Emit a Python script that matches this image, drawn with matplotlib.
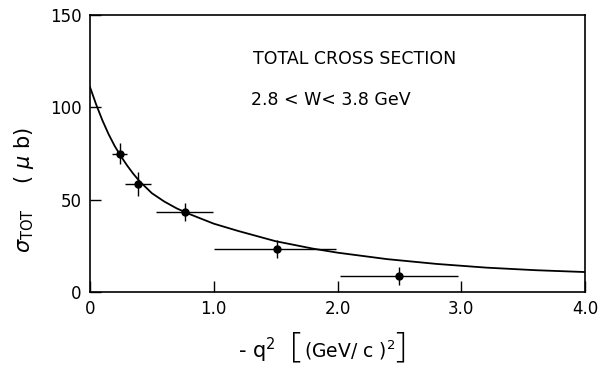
import matplotlib
matplotlib.use('Agg')
import matplotlib.pyplot as plt
import numpy as np

plt.rcParams.update({'font.family': 'DejaVu Sans', 'mathtext.fontset': 'dejavusans'})

# measured total cross section points
q2 = [0.24, 0.39, 0.77, 1.51, 2.50]
q2_lo = [0.06, 0.11, 0.24, 0.51, 0.48]
q2_hi = [0.06, 0.10, 0.22, 0.48, 0.47]
sigma = [75.0, 58.5, 43.3, 23.3, 8.7]
sigma_err = [5.5, 6.5, 5.0, 5.0, 5.0]

# fitted curve read along its length
fit_q2 = [0.0, 0.05, 0.1, 0.15, 0.2, 0.25, 0.3, 0.35, 0.4, 0.5, 0.6, 0.7, 0.8,
          1.0, 1.2, 1.5, 1.8, 2.0, 2.4, 2.8, 3.2, 3.6, 4.0]
fit_sigma = [111.0, 101.5, 93.0, 85.5, 79.0, 73.5, 68.5, 64.0, 60.0, 53.5, 49.0,
             45.3, 42.3, 37.0, 33.0, 27.5, 23.5, 21.3, 17.8, 15.2, 13.2, 11.8, 10.8]

xticks = [0, 1, 2, 3, 4]
xticklabels = ['0', '1.0', '2.0', '3.0', '4.0']
yticks = [0, 50, 100, 150]

fig = plt.figure(figsize=(6.02, 3.67), dpi=100)
ax = fig.add_axes([0.1495, 0.2044, 0.8223, 0.7546])

ax.plot(fit_q2, fit_sigma, color='black', lw=1.3)
ax.errorbar(q2, sigma, xerr=[q2_lo, q2_hi], yerr=sigma_err, fmt='o',
            color='black', ms=5, elinewidth=1.0, capsize=0)

ax.set_xlim(0, 4.0)
ax.set_ylim(0, 150)
ax.set_xticks(xticks)
ax.set_xticklabels(xticklabels)
ax.set_yticks(yticks)
ax.tick_params(direction='in', length=8, width=1.0, labelsize=12, pad=6, color='black')
for s in ax.spines.values():
    s.set_linewidth(1.2)

ax.text(1.32, 126, 'TOTAL CROSS SECTION', fontsize=12.5, va='center')
ax.text(1.30, 104, '2.8 < W< 3.8 GeV', fontsize=12.5, va='center')

# x label built in pieces so the square brackets can be drawn tall
W, H = 602.0, 367.0
ylab = 1 - 350 / H
thin = ['Open Sans', 'DejaVu Sans']
fig.text(238 / W, ylab, r'- q$^2$', fontsize=15, va='center', ha='left')
fig.text(296 / W, 1 - 347 / H, '[', fontsize=25, va='center', ha='center',
         family=thin, fontweight='light')
fig.text(304 / W, ylab, r'(GeV/ c )$^2$', fontsize=13.5, va='center', ha='left')
fig.text(401 / W, 1 - 347 / H, ']', fontsize=25, va='center', ha='center',
         family=thin, fontweight='light')

ax.set_ylabel(r'$\sigma_{\mathrm{TOT}}$    ( $\mu$ b)', fontsize=15)
ax.yaxis.set_label_coords(-0.11, 0.37)

fig.savefig('out.png', dpi=100)
